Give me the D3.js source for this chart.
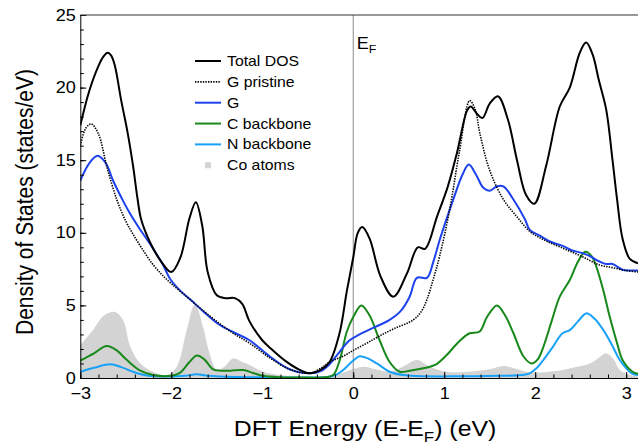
<!DOCTYPE html>
<html>
<head>
<meta charset="utf-8">
<script src="https://cdn.jsdelivr.net/npm/d3@7"></script>
<style>
  body { margin: 0; background: #fff; }
  text { font-family: "Liberation Sans", Arial, sans-serif; fill: #000; }
</style>
</head>
<body>
<div id="chart"></div>
<script>
// energy (eV) vs density of states
const totalDos = [[-3.0,17.4],[-2.9,19.8],[-2.8,21.5],[-2.75,22.1],[-2.7,22.4],[-2.66,22.2],[-2.62,21.5],[-2.55,19.1],[-2.48,16.9],[-2.42,14.6],[-2.37,12.3],[-2.33,10.9],[-2.23,9.3],[-2.12,8.1],[-2.0,7.3],[-1.9,8.3],[-1.8,11.0],[-1.73,12.1],[-1.66,10.5],[-1.6,7.3],[-1.5,5.7],[-1.4,5.5],[-1.3,5.5],[-1.22,5.1],[-1.14,3.9],[-1.0,2.6],[-0.9,2.0],[-0.75,1.2],[-0.6,0.6],[-0.48,0.33],[-0.35,0.6],[-0.26,1.1],[-0.15,3.1],[-0.07,6.0],[0.0,8.3],[0.05,10.0],[0.1,10.4],[0.18,9.6],[0.3,7.0],[0.44,5.6],[0.59,7.2],[0.71,9.0],[0.79,8.9],[0.92,11.1],[1.04,13.2],[1.14,15.5],[1.25,18.4],[1.29,18.7],[1.36,18.2],[1.42,17.9],[1.5,18.9],[1.59,19.4],[1.7,17.8],[1.8,15.0],[1.9,12.6],[1.99,12.0],[2.12,14.6],[2.27,18.7],[2.38,20.0],[2.49,22.4],[2.56,23.1],[2.63,22.3],[2.7,20.5],[2.78,18.5],[2.85,15.0],[2.9,12.3],[2.96,9.6],[3.04,8.2],[3.13,7.9]];
const gPristine = [[-3.0,16.0],[-2.94,17.2],[-2.88,17.5],[-2.8,16.8],[-2.71,14.6],[-2.6,12.3],[-2.5,10.8],[-2.42,9.9],[-2.31,8.8],[-2.2,7.8],[-2.1,7.1],[-2.0,6.5],[-1.83,5.6],[-1.69,4.85],[-1.48,3.8],[-1.3,3.0],[-1.14,2.4],[-0.92,1.4],[-0.7,0.6],[-0.48,0.33],[-0.35,0.7],[-0.26,1.1],[-0.11,1.5],[0.0,1.9],[0.15,2.4],[0.29,2.9],[0.45,3.4],[0.66,4.0],[0.75,4.6],[0.81,5.4],[0.88,6.8],[0.95,8.4],[1.06,11.6],[1.17,15.7],[1.28,19.1],[1.34,18.5],[1.39,16.9],[1.5,14.3],[1.65,12.3],[1.8,11.1],[1.94,10.1],[2.1,9.5],[2.3,8.95],[2.52,8.35],[2.7,7.8],[2.85,7.6],[3.0,7.4],[3.13,7.3]];
const gDos = [[-3.0,13.6],[-2.9,14.8],[-2.81,15.3],[-2.72,14.8],[-2.64,13.6],[-2.53,12.2],[-2.46,11.4],[-2.35,10.3],[-2.23,9.2],[-2.1,7.9],[-2.01,6.8],[-1.9,6.0],[-1.79,5.4],[-1.65,4.6],[-1.48,3.7],[-1.3,3.1],[-1.14,2.6],[-0.92,1.5],[-0.7,0.6],[-0.48,0.33],[-0.35,0.5],[-0.26,0.95],[-0.15,1.8],[-0.04,2.6],[0.07,3.0],[0.2,3.4],[0.29,3.65],[0.4,4.0],[0.52,4.6],[0.62,5.6],[0.7,6.9],[0.81,6.9],[0.88,8.0],[0.95,9.5],[1.1,12.3],[1.2,14.0],[1.27,14.7],[1.35,14.0],[1.43,13.1],[1.5,12.9],[1.58,13.2],[1.65,13.2],[1.75,12.4],[1.89,10.9],[1.94,10.2],[2.05,9.8],[2.16,9.4],[2.3,9.1],[2.4,8.8],[2.52,8.6],[2.6,8.4],[2.68,8.1],[2.78,7.85],[2.85,7.85],[2.96,7.45],[3.05,7.4],[3.13,7.4]];
const cBackbone = [[-3.0,1.2],[-2.85,1.7],[-2.71,2.2],[-2.6,1.9],[-2.49,1.25],[-2.34,0.5],[-2.2,0.2],[-2.0,0.15],[-1.91,0.33],[-1.8,1.1],[-1.72,1.55],[-1.64,1.3],[-1.54,0.6],[-1.45,0.5],[-1.35,0.5],[-1.21,0.55],[-1.1,0.35],[-0.99,0.15],[-0.8,0.05],[-0.5,0.03],[-0.3,0.05],[-0.22,0.2],[-0.15,1.2],[-0.07,3.2],[0.0,4.2],[0.09,5.0],[0.18,4.3],[0.29,2.6],[0.4,1.1],[0.51,0.43],[0.62,0.5],[0.77,0.67],[0.9,0.9],[1.03,1.6],[1.16,2.5],[1.28,3.08],[1.39,3.2],[1.47,4.2],[1.58,5.0],[1.67,4.3],[1.76,3.1],[1.87,1.5],[1.96,1.0],[2.03,1.3],[2.09,2.15],[2.18,3.9],[2.27,5.6],[2.38,6.75],[2.47,8.0],[2.55,8.7],[2.62,8.4],[2.67,7.7],[2.75,6.0],[2.82,4.2],[2.9,2.4],[2.96,1.24],[3.07,0.43],[3.13,0.3]];
const nBackbone = [[-3.0,0.43],[-2.85,0.7],[-2.67,0.94],[-2.55,0.75],[-2.42,0.43],[-2.25,0.15],[-2.0,0.1],[-1.85,0.15],[-1.72,0.25],[-1.6,0.15],[-1.4,0.08],[-1.0,0.05],[-0.5,0.03],[-0.26,0.09],[-0.18,0.25],[-0.11,0.55],[0.0,1.2],[0.07,1.5],[0.16,1.35],[0.26,1.0],[0.4,0.43],[0.55,0.2],[0.8,0.12],[1.2,0.12],[1.6,0.15],[1.85,0.2],[1.94,0.32],[2.02,0.7],[2.09,1.24],[2.2,2.2],[2.3,3.08],[2.38,3.3],[2.47,3.9],[2.56,4.45],[2.65,4.1],[2.75,3.3],[2.85,2.2],[2.93,1.24],[3.06,0.32],[3.13,0.2]];
const coAtoms = [[-3.0,2.25],[-2.86,3.3],[-2.74,4.3],[-2.62,4.55],[-2.53,4.0],[-2.45,2.15],[-2.34,1.0],[-2.2,0.43],[-2.05,0.2],[-1.94,0.78],[-1.83,3.3],[-1.74,5.1],[-1.65,3.5],[-1.58,1.7],[-1.5,0.55],[-1.42,0.75],[-1.32,1.35],[-1.22,1.1],[-1.14,0.9],[-0.99,0.43],[-0.8,0.2],[-0.5,0.1],[-0.25,0.15],[-0.1,0.4],[0.11,0.78],[0.25,0.6],[0.4,0.43],[0.55,0.8],[0.7,1.24],[0.84,0.78],[1.03,0.43],[1.3,0.45],[1.5,0.6],[1.65,0.83],[1.8,0.6],[1.94,0.4],[2.1,0.4],[2.3,0.55],[2.45,0.75],[2.6,1.0],[2.7,1.4],[2.78,1.7],[2.86,1.3],[2.93,0.55],[3.04,0.2],[3.13,0.1]];

const xTicks = [-3, -2, -1, 0, 1, 2, 3];
const yTicks = [0, 5, 10, 15, 20, 25];
const legendItems = [
    {label: 'Total DOS', kind: 'total'},
    {label: 'G pristine', kind: 'pristine'},
    {label: 'G', kind: 'g'},
    {label: 'C backbone', kind: 'c'},
    {label: 'N backbone', kind: 'n'},
    {label: 'Co atoms', kind: 'co'}
];

const W = 638, H = 443;
const plotLeft = 80.3, plotRight = 638, plotTop = 15, plotBottom = 378;
const stretch = 1.13; // text in the figure is a bit wider than Arial

const colors = {total: '#000', pristine: '#000', g: '#1d42ee', c: '#17891a', n: '#18a1f8', co: '#d3d3d3'};

const svg = d3.select('#chart').append('svg')
    .attr('width', W)
    .attr('height', H);

const x = d3.scaleLinear().domain([-3, 3.13]).range([plotLeft, plotRight]);
const y = d3.scaleLinear().domain([0, 25]).range([plotBottom, plotTop]);

svg.append('clipPath').attr('id', 'plot-clip')
    .append('rect')
    .attr('x', plotLeft).attr('y', plotTop)
    .attr('width', plotRight - plotLeft).attr('height', plotBottom - plotTop);

const plot = svg.append('g').attr('clip-path', 'url(#plot-clip)');

const smooth = d3.curveCatmullRom.alpha(0.5);

// Co atoms as filled area
plot.append('path')
    .datum(coAtoms)
    .attr('fill', colors.co)
    .attr('d', d3.area().curve(smooth)
        .x(d => x(d[0])).y0(y(0)).y1(d => y(d[1])));

// Fermi level
plot.append('line')
    .attr('x1', x(0)).attr('x2', x(0))
    .attr('y1', plotTop).attr('y2', plotBottom)
    .attr('stroke', '#8a8a8a').attr('stroke-width', 1);

const line = d3.line().curve(smooth).x(d => x(d[0])).y(d => y(d[1]));

const series = [
    {data: nBackbone, color: colors.n, width: 2},
    {data: cBackbone, color: colors.c, width: 2},
    {data: gDos, color: colors.g, width: 2},
    {data: gPristine, color: colors.pristine, width: 1.6, dash: '1.4,1.2'},
    {data: totalDos, color: colors.total, width: 2}
];
series.forEach(s => {
    plot.append('path')
        .datum(s.data)
        .attr('fill', 'none')
        .attr('stroke', s.color)
        .attr('stroke-width', s.width)
        .attr('stroke-dasharray', s.dash || null)
        .attr('stroke-linejoin', 'round')
        .attr('d', line);
});

// axes: major ticks inward with labels, minor ticks every 0.2 / 1
const xAxis = svg.append('g')
    .attr('transform', `translate(0,${plotBottom})`)
    .call(d3.axisBottom(x).tickValues(xTicks).tickSize(-6).tickSizeOuter(0).tickPadding(10).tickFormat(d3.format('d')));
svg.append('g')
    .attr('transform', `translate(0,${plotBottom})`)
    .call(d3.axisBottom(x).tickValues(d3.range(-30, 32, 2).map(v => v / 10)).tickSize(-3.5).tickFormat(''))
    .call(g => g.select('.domain').remove());

const yAxis = svg.append('g')
    .attr('transform', `translate(${plotLeft},0)`)
    .call(d3.axisLeft(y).tickValues(yTicks).tickSize(-6).tickSizeOuter(0).tickPadding(4).tickFormat(d3.format('d')));
svg.append('g')
    .attr('transform', `translate(${plotLeft},0)`)
    .call(d3.axisLeft(y).tickValues(d3.range(0, 26)).tickSize(-3.5).tickFormat(''))
    .call(g => g.select('.domain').remove());

svg.selectAll('.tick line').attr('stroke', '#000');
svg.selectAll('.domain').attr('stroke', '#000');
[xAxis, yAxis].forEach(a => a.selectAll('.tick text')
    .attr('font-size', 16)
    .attr('font-family', '"Liberation Sans", Arial, sans-serif')
    .attr('fill', '#000')
    .attr('transform', `scale(${stretch},1)`));

// top frame line
svg.append('line')
    .attr('x1', plotLeft).attr('x2', W)
    .attr('y1', plotTop).attr('y2', plotTop)
    .attr('stroke', '#333').attr('stroke-width', 1);

// E_F label
const ef = svg.append('text')
    .attr('transform', `translate(${x(0) + 3.5},48.5) scale(${stretch},1)`)
    .attr('font-size', 16);
ef.append('tspan').text('E');
ef.append('tspan').attr('font-size', 11).attr('dy', 4.5).text('F');

// axis titles
const xTitle = svg.append('text')
    .attr('transform', `translate(365,435.5) scale(${stretch},1)`)
    .attr('text-anchor', 'middle')
    .attr('font-size', 22);
xTitle.append('tspan').text('DFT Energy (E-E');
xTitle.append('tspan').attr('font-size', 15).attr('dy', 6).text('F');
xTitle.append('tspan').attr('dy', -6).text(') (eV)');

svg.append('text')
    .attr('transform', `translate(33,202) rotate(-90) scale(1,${stretch})`)
    .attr('text-anchor', 'middle')
    .attr('font-size', 21)
    .text('Density of States (states/eV)');

// legend
const legend = svg.append('g').attr('transform', 'translate(195,61)');
legendItems.forEach((item, i) => {
    const row = legend.append('g').attr('transform', `translate(0,${i * 20.85})`);
    if (item.kind === 'co') {
        row.append('rect')
            .attr('x', 10).attr('y', -3).attr('width', 6).attr('height', 6)
            .attr('fill', colors.co);
    } else {
        row.append('line')
            .attr('x1', 0).attr('x2', 26)
            .attr('stroke', colors[item.kind])
            .attr('stroke-width', item.kind === 'pristine' ? 1.6 : 2)
            .attr('stroke-dasharray', item.kind === 'pristine' ? '1.4,1.2' : null);
    }
    row.append('text')
        .attr('transform', `translate(32,5) scale(${stretch},1)`)
        .attr('font-size', 14)
        .text(item.label);
});
</script>
</body>
</html>
